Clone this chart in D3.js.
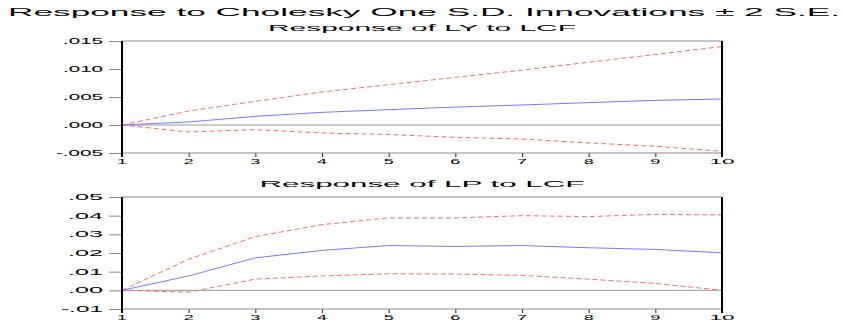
<!DOCTYPE html>
<html>
<head>
<meta charset="utf-8">
<script src="https://cdn.jsdelivr.net/npm/d3@7"></script>
<style>
  body { margin: 0; background: #fff; }
  svg { display: block; font-family: "Liberation Sans", Arial, sans-serif; }
</style>
</head>
<body>
<svg id="chart" width="844" height="323"></svg>
<script>
const periods = [1, 2, 3, 4, 5, 6, 7, 8, 9, 10];

// Response of LY to LCF
const lyResp  = [0, 0.00054, 0.00155, 0.00226, 0.00274, 0.0032, 0.00357, 0.0040, 0.0044, 0.00464];
const lyUpper = [0, 0.0025, 0.00423, 0.0059, 0.0072, 0.0085, 0.0098, 0.0112, 0.0126, 0.0140];
const lyLower = [0, -0.00125, -0.00083, -0.00143, -0.0017, -0.0022, -0.0025, -0.0032, -0.0038, -0.0047];
const lyTicks = [-0.005, 0, 0.005, 0.010, 0.015];
const lyTickLabels = ["-.005", ".000", ".005", ".010", ".015"];

// Response of LP to LCF
const lpResp  = [0, 0.0077, 0.0174, 0.0214, 0.0240, 0.0235, 0.0240, 0.0228, 0.0219, 0.0201];
const lpUpper = [0, 0.0167, 0.0288, 0.0352, 0.0388, 0.0388, 0.0400, 0.0395, 0.0407, 0.0404];
const lpLower = [0, -0.0010, 0.0060, 0.0077, 0.0089, 0.0087, 0.0080, 0.0060, 0.0037, 0.0000];
const lpTicks = [-0.01, 0, 0.01, 0.02, 0.03, 0.04, 0.05];
const lpTickLabels = ["-.01", ".00", ".01", ".02", ".03", ".04", ".05"];

const LEFT = 122;
const RIGHT = 722;

const svg = d3.select("#chart");

// wide, stretched lettering like the original export
function stretchedText(g, str, x, y, width, size, anchor) {
  let x0 = x;
  if (anchor === "middle") x0 = x - width / 2;
  if (anchor === "end") x0 = x - width;
  return g.append("text")
    .attr("x", x0)
    .attr("y", y)
    .attr("font-size", size)
    .attr("textLength", width)
    .attr("lengthAdjust", "spacingAndGlyphs")
    .attr("fill", "#000")
    .text(str);
}

stretchedText(svg, "Response to Cholesky One S.D. Innovations \u00b1 2 S.E.", 8, 16, 832, 11.5, "start");

const x = d3.scaleLinear().domain([1, 10]).range([LEFT, RIGHT]);

function drawPanel(cfg) {
  const y = d3.scaleLinear().domain(cfg.domain).range([cfg.bottom, cfg.top]);
  const g = svg.append("g");

  stretchedText(g, cfg.title, (LEFT + RIGHT) / 2, cfg.top - 10, cfg.titleWidth, 9, "middle");

  // y axis ticks + labels
  const yAxis = d3.axisLeft(y).tickValues(cfg.ticks).tickSize(13).tickFormat("");
  const ya = g.append("g").attr("transform", `translate(${LEFT},0)`).call(yAxis);
  ya.select(".domain").remove();
  ya.selectAll(".tick line").attr("stroke", "#8a8a8a");
  cfg.ticks.forEach((t, i) => {
    const lab = cfg.tickLabels[i];
    const w = cfg.labelWidth + (lab[0] === "-" ? 7 : 0);
    stretchedText(g, lab, 103, y(t) + 3, w, 8.5, "end");
  });

  // x axis ticks + labels
  const xAxis = d3.axisBottom(x).tickValues(periods).tickSize(4).tickFormat("");
  const xa = g.append("g").attr("transform", `translate(0,${cfg.bottom})`).call(xAxis);
  xa.select(".domain").remove();
  xa.selectAll(".tick line").attr("stroke", "#222");
  periods.forEach(p => {
    const s = String(p);
    stretchedText(g, s, x(p), cfg.bottom + 11, s.length > 1 ? 25 : 10, 7.5, "middle");
  });

  // frame
  g.append("line").attr("x1", LEFT).attr("x2", RIGHT).attr("y1", cfg.top).attr("y2", cfg.top)
    .attr("stroke", "#8a8a8a");
  g.append("line").attr("x1", LEFT).attr("x2", RIGHT).attr("y1", cfg.bottom).attr("y2", cfg.bottom)
    .attr("stroke", "#8a8a8a");
  g.append("line").attr("x1", LEFT).attr("x2", RIGHT).attr("y1", y(0)).attr("y2", y(0))
    .attr("stroke", "#9a9a9a");

  const line = d3.line().x((d, i) => x(periods[i])).y(d => y(d));

  g.append("path").datum(cfg.upper).attr("d", line).attr("fill", "none")
    .attr("stroke", "#ff6868").attr("stroke-width", 1).attr("stroke-dasharray", "5,3");
  g.append("path").datum(cfg.lower).attr("d", line).attr("fill", "none")
    .attr("stroke", "#ff6868").attr("stroke-width", 1).attr("stroke-dasharray", "5,3");
  g.append("path").datum(cfg.resp).attr("d", line).attr("fill", "none")
    .attr("stroke", "#7a7aff").attr("stroke-width", 1);

  g.append("line").attr("x1", LEFT).attr("x2", LEFT).attr("y1", cfg.top).attr("y2", cfg.bottom + 4)
    .attr("stroke", "#000").attr("stroke-width", 2);
  g.append("line").attr("x1", RIGHT).attr("x2", RIGHT).attr("y1", cfg.top).attr("y2", cfg.bottom + 4)
    .attr("stroke", "#000").attr("stroke-width", 2);
}

drawPanel({
  title: "Response of LY to LCF", titleWidth: 308,
  top: 41, bottom: 153, domain: [-0.005, 0.015],
  ticks: lyTicks, tickLabels: lyTickLabels, labelWidth: 40,
  resp: lyResp, upper: lyUpper, lower: lyLower
});

drawPanel({
  title: "Response of LP to LCF", titleWidth: 325,
  top: 197, bottom: 309, domain: [-0.01, 0.05],
  ticks: lpTicks, tickLabels: lpTickLabels, labelWidth: 35,
  resp: lpResp, upper: lpUpper, lower: lpLower
});
</script>
</body>
</html>
